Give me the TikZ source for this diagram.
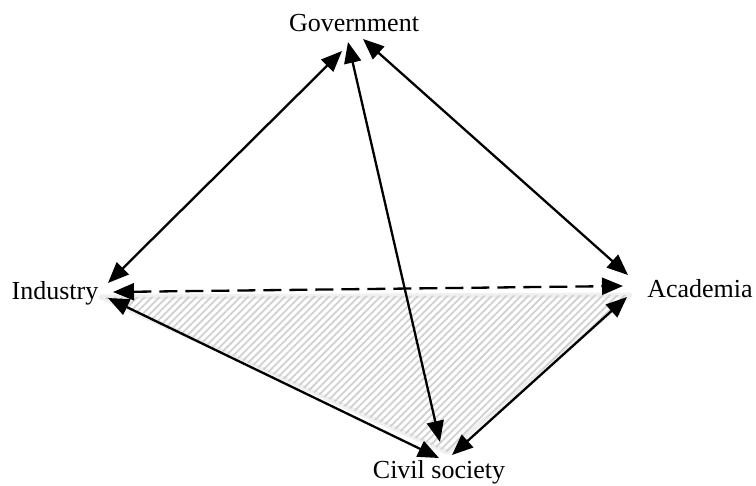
\documentclass[tikz,border=0pt]{standalone}
\usepackage{fontspec}
\setmainfont{Liberation Serif}
\usetikzlibrary{arrows.meta,patterns.meta}
\begin{document}
\begin{tikzpicture}[x=1pt,y=-1pt,
  actor/.style={font=\fontsize{26}{30}\selectfont, anchor=base, inner sep=0pt},
  link/.style={line width=2.3pt,
    {Triangle[length=21pt,width=17pt]}-{Triangle[length=21pt,width=17pt]}},
  weaklink/.style={link, dash pattern=on 18pt off 8pt},
  zone/.style={pattern={Lines[angle=45,distance=5.2pt,line width=1.8pt]},
    pattern color=black!18},
  zoneedge/.style={draw=black!6, line width=5pt, line join=round}
]
\useasboundingbox (0,0) rectangle (756,486);

% the four sectors
\node[actor] (gov) at (354,32) {Government};
\node[actor] (ind) at (55,300) {Industry};
\node[actor] (aca) at (700,298) {Academia};
\node[actor] (civ) at (439,479) {Civil society};

% shaded base of the pyramid
\coordinate (zl) at (101,297);
\coordinate (zr) at (630,295);
\coordinate (zb) at (447,452);
\draw[zoneedge] (zl) -- (zr) -- (zb) -- cycle;
\fill[zone] (zl) -- (zr) -- (zb) -- cycle;

% arrow ends next to each sector
\coordinate (gov-l) at (342,51);
\coordinate (gov-m) at (348,42);
\coordinate (gov-r) at (363,39);
\coordinate (ind-t) at (108,283);
\coordinate (ind-m) at (113,292);
\coordinate (ind-b) at (108,298);
\coordinate (aca-t) at (628,275);
\coordinate (aca-m) at (623,286);
\coordinate (aca-b) at (627,297);
\coordinate (civ-t) at (440,442);
\coordinate (civ-l) at (439,458);
\coordinate (civ-r) at (452,455);

% relations
\draw[link] (ind-t) -- (gov-l);
\draw[link] (gov-r) -- (aca-t);
\draw[link] (gov-m) -- (civ-t);
\draw[weaklink] (ind-m) -- (aca-m);
\draw[link] (ind-b) -- (civ-l);
\draw[link] (aca-b) -- (civ-r);
\end{tikzpicture}
\end{document}
